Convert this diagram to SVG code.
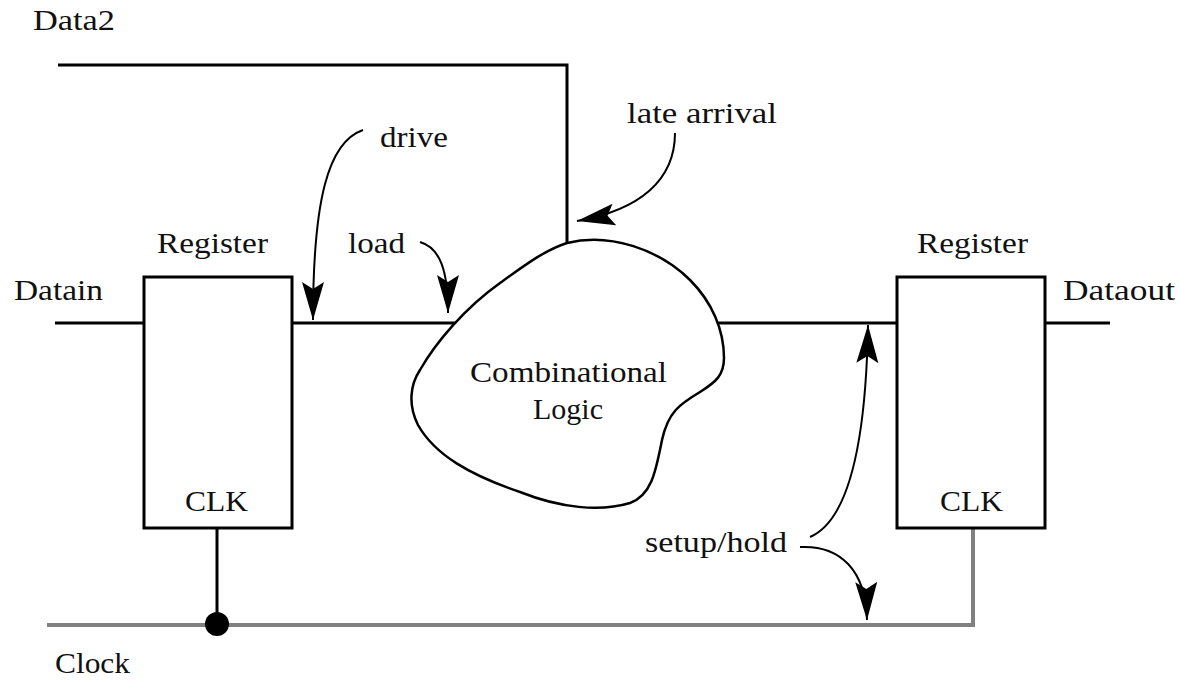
<svg xmlns="http://www.w3.org/2000/svg" width="1180" height="680" viewBox="0 0 1180 680">
<style>
text{font-family:"Liberation Serif","Times New Roman",serif;font-size:30px;fill:#111}
.w{stroke:#000;stroke-width:3;fill:none}
.g{stroke:#808080;stroke-width:4;fill:none}
.box{stroke:#000;stroke-width:3;fill:#fff}
.blob{stroke:#000;stroke-width:2.5;fill:#fff}
.arr{stroke:#000;stroke-width:2;fill:none;marker-end:url(#ah)}
</style>
<defs>
<marker id="ah" markerUnits="userSpaceOnUse" markerWidth="40" markerHeight="24" viewBox="0 0 40 24" refX="38" refY="12" orient="auto">
<path d="M0,1 L38,12 L0,23 L7,12 Z" fill="#000"/>
</marker>
</defs>
<rect width="1180" height="680" fill="#fff"/>
<g id="connectors">
<polyline class="w" points="58,65 567,65 567,243"/>
<line class="w" x1="55" y1="323" x2="144" y2="323"/>
<line class="w" x1="292" y1="323" x2="470" y2="323"/>
<line class="w" x1="700" y1="323" x2="897" y2="323"/>
<line class="w" x1="1045" y1="323" x2="1110" y2="323"/>
<polyline class="g" points="47,625 973,625 973,528"/>
<line class="w" x1="217" y1="528" x2="217" y2="624"/>
<circle cx="217" cy="624" r="12" fill="#000"/>
</g>
<g id="logic">
<path class="blob" d="M567,243 C610,232 660,250 690,280 C712,302 724,330 724,358 C724,375 716,382 700,392 C680,404 668,412 662,440 C656,470 652,495 630,503 C600,512 560,508 520,492 C470,475 435,455 418,425 C408,405 410,385 420,370 C436,342 465,308 500,283 C525,265 545,250 567,243 Z"/>
<text x="470" y="382" textLength="197" lengthAdjust="spacingAndGlyphs">Combinational</text>
<text x="533" y="419" textLength="70" lengthAdjust="spacingAndGlyphs">Logic</text>
</g>
<g id="reg-in">
<rect class="box" x="144" y="277" width="148" height="251"/>
<text x="157" y="253" textLength="111" lengthAdjust="spacingAndGlyphs">Register</text>
<text x="185" y="511" textLength="63" lengthAdjust="spacingAndGlyphs">CLK</text>
</g>
<g id="reg-out">
<rect class="box" x="897" y="277" width="148" height="251"/>
<text x="917" y="253" textLength="111" lengthAdjust="spacingAndGlyphs">Register</text>
<text x="940" y="511" textLength="63" lengthAdjust="spacingAndGlyphs">CLK</text>
</g>
<g id="labels">
<text x="33" y="30" textLength="82" lengthAdjust="spacingAndGlyphs">Data2</text>
<text x="14" y="300" textLength="89" lengthAdjust="spacingAndGlyphs">Datain</text>
<text x="1063" y="300" textLength="112" lengthAdjust="spacingAndGlyphs">Dataout</text>
<text x="55" y="673" textLength="75" lengthAdjust="spacingAndGlyphs">Clock</text>
<text x="380" y="147" textLength="68" lengthAdjust="spacingAndGlyphs">drive</text>
<text x="348" y="253" textLength="57" lengthAdjust="spacingAndGlyphs">load</text>
<text x="627" y="123" textLength="150" lengthAdjust="spacingAndGlyphs">late arrival</text>
<text x="645" y="552" textLength="142" lengthAdjust="spacingAndGlyphs">setup/hold</text>
</g>
<g id="annotations">
<path class="arr" d="M363,130 C328,142 313,200 313,320"/>
<path class="arr" d="M420,242 C440,248 448,270 448,313"/>
<path class="arr" d="M675,133 C675,180 640,210 577,221"/>
<path class="arr" d="M810,537 C850,520 866,440 868,325"/>
<path class="arr" d="M800,547 C840,545 866,570 867,620"/>
</g>
</svg>
